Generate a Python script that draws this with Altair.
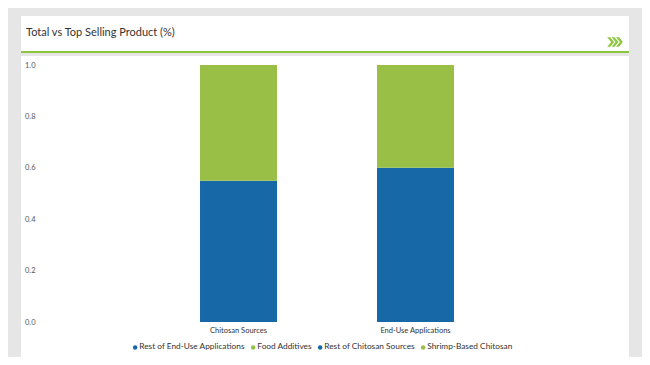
import altair as alt
import pandas as pd

categories = ["Chitosan Sources", "Chitosan Sources", "End-Use Applications", "End-Use Applications"]
segments = ["Rest of Chitosan Sources", "Shrimp-Based Chitosan", "Rest of End-Use Applications", "Food Additives"]
values = [0.55, 0.45, 0.60, 0.40]
stack_rank = [0, 1, 0, 1]

legend_order = ["Rest of End-Use Applications", "Food Additives", "Rest of Chitosan Sources", "Shrimp-Based Chitosan"]
legend_colors = ["#1668a7", "#99bf47", "#1668a7", "#99bf47"]
y_ticks = [0.0, 0.2, 0.4, 0.6, 0.8, 1.0]
title_text = "Total vs Top Selling Product (%)"

df = pd.DataFrame({"category": categories, "segment": segments, "value": values, "rank": stack_rank})

FONT = "Lato"
one = alt.Data(values=[{"a": 1}])

CHEVRONS = " ".join(
    f"M{dx-0.3:.2f},-0.5 L{dx+0.1:.2f},0 L{dx-0.3:.2f},0.5 L{dx:.2f},0.5 L{dx+0.4:.2f},0 L{dx:.2f},-0.5 Z"
    for dx in (-0.7, -0.25, 0.2)
)

panel = alt.Chart(one).mark_rect(color="white").encode(
    x=alt.value(-16), x2=alt.value(592), y=alt.value(-49), y2=alt.value(292))
gap = alt.Chart(one).mark_rect(color="#e6e6e6").encode(
    x=alt.value(-16), x2=alt.value(592), y=alt.value(-12), y2=alt.value(-9))
green_line = alt.Chart(one).mark_rect(color="#8cc63f").encode(
    x=alt.value(-16), x2=alt.value(592), y=alt.value(-14), y2=alt.value(-12))
title = alt.Chart(one).mark_text(align="left", baseline="middle", font=FONT, fontSize=11, color="#333333").encode(
    x=alt.value(-11), y=alt.value(-32), text=alt.value(title_text))
chev = alt.Chart(one).mark_point(shape=CHEVRONS, filled=True, opacity=1, color="#8cc63f", size=380).encode(
    x=alt.value(580), y=alt.value(-23))

bars = alt.Chart(df).mark_bar().encode(
    x=alt.X("category:N", title=None, sort=["Chitosan Sources", "End-Use Applications"],
            scale=alt.Scale(paddingInner=0.565, paddingOuter=0.921),
            axis=alt.Axis(labelAngle=0, ticks=False, domain=False, labelFont=FONT, labelFontSize=7.5,
                          labelColor="#333333", labelPadding=4, zindex=2)),
    y=alt.Y("value:Q", title=None, stack="zero", scale=alt.Scale(domain=[0, 1], nice=False),
            axis=alt.Axis(values=y_ticks, format=".1f", grid=False, ticks=False, domain=False,
                          labelFont=FONT, labelFontSize=7.5, labelColor="#555555", labelPadding=2, zindex=2)),
    color=alt.Color("segment:N", scale=alt.Scale(domain=legend_order, range=legend_colors),
                    legend=alt.Legend(title=None, orient="none", direction="horizontal",
                                      legendX=94, legendY=278, symbolType="circle", symbolSize=20,
                                      labelFont=FONT, labelFontSize=8.3, labelColor="#333333",
                                      symbolStrokeWidth=0, columnPadding=4, labelOffset=0)),
    order=alt.Order("rank:Q"),
)

chart = alt.layer(panel, gap, green_line, title, chev, bars).properties(
    width=580, height=257, autosize="none",
    padding={"left": 29, "top": 57, "right": 25, "bottom": 35},
    background="#e6e6e6",
).configure_view(stroke=None)

chart.save("out.html", embed_options={"renderer": "svg", "actions": False})
